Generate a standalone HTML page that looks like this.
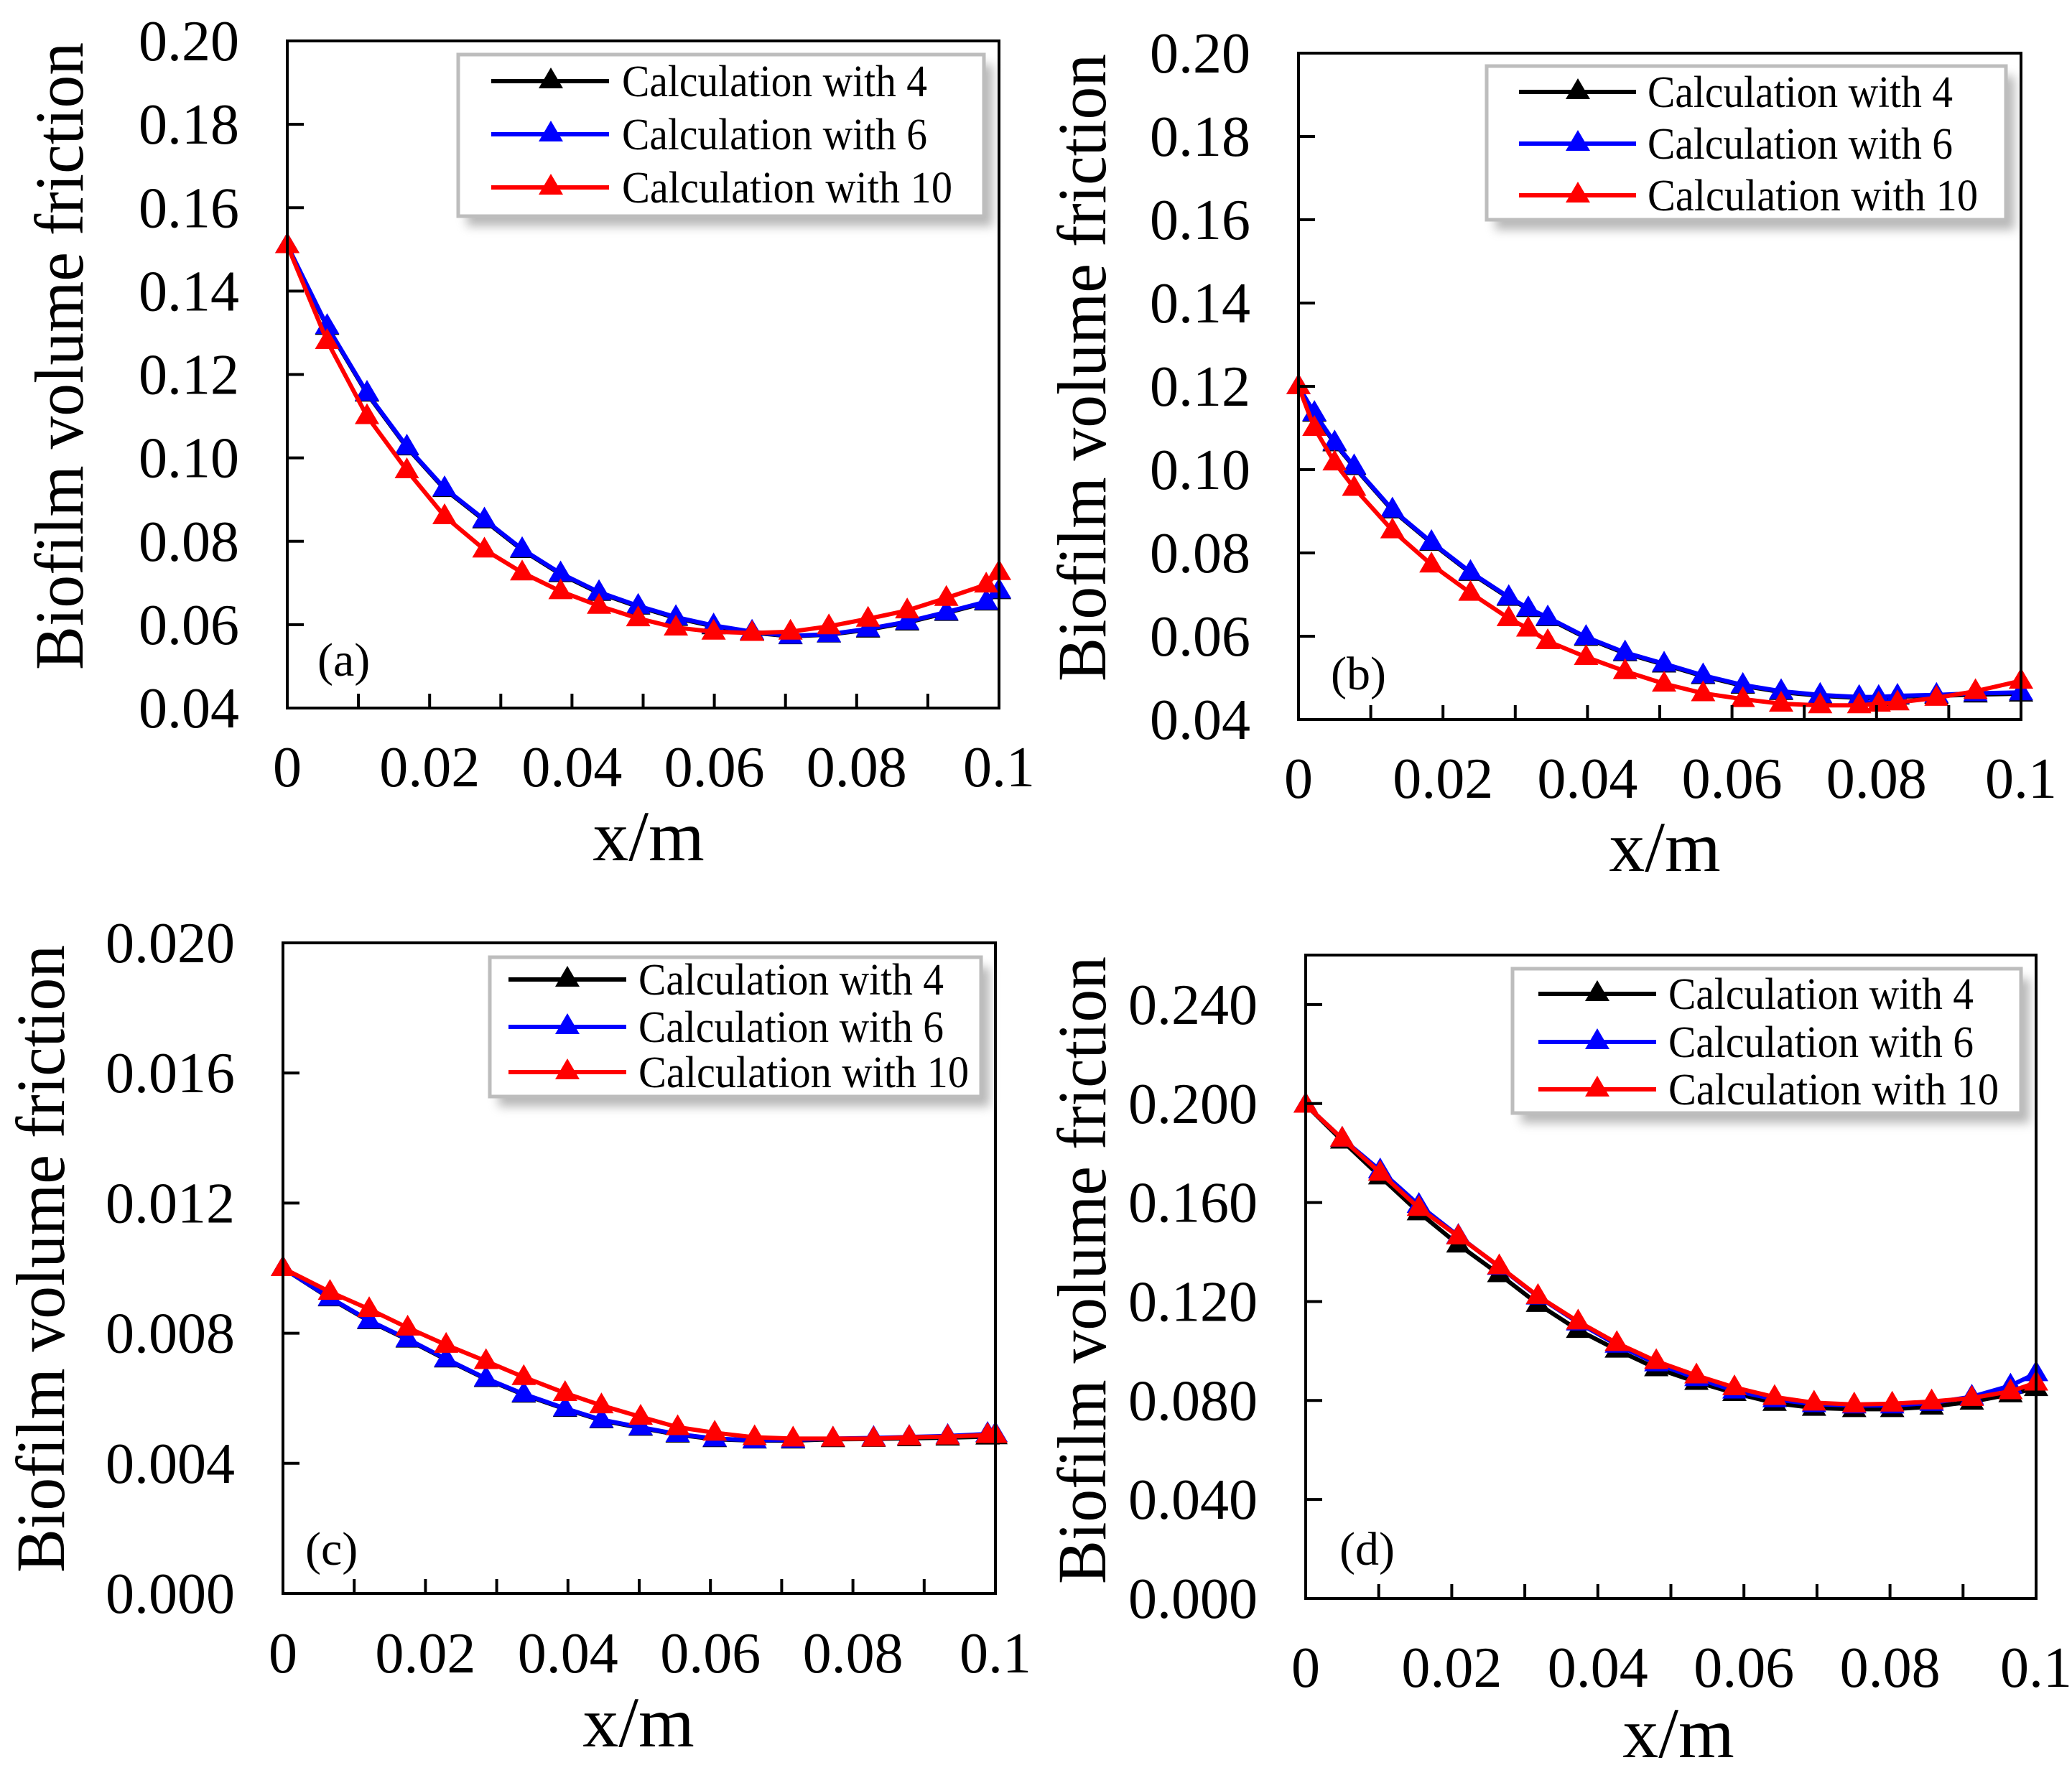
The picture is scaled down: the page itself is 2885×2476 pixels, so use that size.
<!DOCTYPE html>
<html><head><meta charset="utf-8"><style>
html,body{margin:0;padding:0;background:#fff;overflow:hidden}
svg{display:block;font-family:"Liberation Serif",serif}
</style></head><body>
<svg id="fig" width="2885" height="2476" viewBox="0 0 2885 2476" xmlns="http://www.w3.org/2000/svg">
<defs><filter id="sh" x="-10%" y="-10%" width="130%" height="140%"><feGaussianBlur stdDeviation="7"/></filter></defs>
</svg>
<script>
// ---- data ----
const xA=[0,0.0056,0.0112,0.0168,0.0221,0.0277,0.0330,0.0384,0.0438,0.0493,0.0546,0.0599,0.0653,0.0707,0.0761,0.0816,0.0871,0.0926,0.0982,0.1];
const a4=[0.151,0.1314,0.1154,0.1025,0.0925,0.085,0.0779,0.0721,0.0676,0.0643,0.0616,0.0596,0.0581,0.0572,0.0576,0.0588,0.0605,0.0628,0.0653,0.068];
const a6=[0.151,0.1316,0.1156,0.1027,0.0927,0.0852,0.0781,0.0723,0.0678,0.0645,0.0618,0.0598,0.0583,0.0573,0.0577,0.059,0.0607,0.063,0.0655,0.0682];
const a10=[0.151,0.128,0.110,0.097,0.086,0.078,0.0725,0.068,0.0645,0.0615,0.0593,0.0583,0.058,0.0583,0.0596,0.0614,0.0634,0.0664,0.0696,0.0726];
const xB=[0,0.0022,0.005,0.0077,0.013,0.0184,0.0238,0.0291,0.0318,0.0345,0.0398,0.0452,0.0506,0.056,0.0615,0.0668,0.0722,0.0776,0.0803,0.0829,0.0883,0.0937,0.1];
const b4=[0.120,0.1134,0.1063,0.1006,0.0902,0.0824,0.0752,0.0692,0.0665,0.0643,0.0596,0.0559,0.0532,0.0504,0.0481,0.0466,0.0457,0.0452,0.0452,0.0455,0.0457,0.046,0.0462];
const b6=[0.120,0.1136,0.1065,0.1008,0.0904,0.0826,0.0754,0.0694,0.0667,0.0645,0.0598,0.0561,0.0534,0.0506,0.0483,0.0468,0.0459,0.0454,0.0454,0.0457,0.0459,0.0463,0.0465];
const b10=[0.120,0.110,0.1017,0.0956,0.0854,0.0772,0.0704,0.0643,0.0618,0.0588,0.055,0.0516,0.0486,0.0463,0.0449,0.0438,0.0434,0.0434,0.0438,0.0441,0.0452,0.0468,0.0493];
const xC=[0,0.0066,0.0121,0.0175,0.0229,0.0285,0.0338,0.0396,0.0447,0.0502,0.0554,0.0606,0.0662,0.0716,0.0772,0.0829,0.0879,0.0933,0.0989,0.1];
const c4=[0.0100,0.00907,0.00837,0.0078,0.00719,0.00659,0.00611,0.00567,0.00532,0.00509,0.00488,0.00474,0.0047,0.0047,0.00474,0.00475,0.00477,0.00479,0.00482,0.00483];
const c6=[0.0100,0.00909,0.00839,0.00782,0.00721,0.00661,0.00613,0.00569,0.00534,0.00511,0.0049,0.00476,0.00471,0.00472,0.00476,0.00478,0.00481,0.00484,0.0049,0.0049];
const c10=[0.0100,0.00927,0.00874,0.00817,0.00764,0.00714,0.00665,0.00616,0.00578,0.00543,0.00511,0.00494,0.0048,0.00476,0.00476,0.00476,0.0048,0.00482,0.00487,0.00487];
const xD=[0,0.005,0.0102,0.0155,0.0209,0.0265,0.0318,0.0373,0.0426,0.048,0.0535,0.0587,0.0642,0.0696,0.0751,0.0803,0.0857,0.0912,0.0965,0.1];
const d4=[0.1995,0.1850,0.1705,0.156,0.143,0.131,0.119,0.1085,0.1005,0.093,0.0875,0.083,0.079,0.077,0.0765,0.0765,0.0775,0.0795,0.0825,0.085];
const d6=[0.1995,0.1858,0.173,0.159,0.1465,0.134,0.122,0.1115,0.1025,0.095,0.089,0.084,0.0805,0.0785,0.078,0.078,0.079,0.0815,0.086,0.091];
const d10=[0.1995,0.1858,0.172,0.1578,0.1463,0.1342,0.1222,0.1119,0.1032,0.0959,0.0901,0.0853,0.0814,0.0791,0.0784,0.0787,0.0796,0.081,0.0837,0.0872];
const xTicks=[0,0.02,0.04,0.06,0.08,0.1];
const xTickLabels=["0","0.02","0.04","0.06","0.08","0.1"];
const yTicksAB=[0.04,0.06,0.08,0.10,0.12,0.14,0.16,0.18,0.20];
const yLabAB=["0.04","0.06","0.08","0.10","0.12","0.14","0.16","0.18","0.20"];
const yTicksC=[0,0.004,0.008,0.012,0.016,0.020];
const yLabC=["0.000","0.004","0.008","0.012","0.016","0.020"];
const yTicksD=[0,0.04,0.08,0.12,0.16,0.20,0.24];
const yLabD=["0.000","0.040","0.080","0.120","0.160","0.200","0.240"];
const seriesNames=["Calculation with 4","Calculation with 6","Calculation with 10"];
const colors=["#000","#0000ff","#ff0000"];

const NS="http://www.w3.org/2000/svg";
const svg=document.getElementById('fig');
function mk(tag,attrs,parent){const e=document.createElementNS(NS,tag);for(const k in attrs)e.setAttribute(k,attrs[k]);(parent||svg).appendChild(e);return e;}

const panels=[
 {id:'a',L:400,R:1391,T:57,B:986,y0:0.04,y1:0.20,yt:yTicksAB,yl:yLabAB,xs:xA,ys:[a4,a6,a10],
  leg:[638,76,732,225],legLine:[684,848,767,866],rows:[113,187,261],tag:[442,941],yt_x:81,yt_y:496,xl:[903,1198],xb:109},
 {id:'b',L:1808,R:2814,T:74,B:1002,y0:0.04,y1:0.20,yt:yTicksAB,yl:yLabAB,xs:xB,ys:[b4,b6,b10],
  leg:[2070,92,723,214],legLine:[2115,2278,2197,2294],rows:[128,200,272],tag:[1853,960],yt_x:1505,yt_y:512,xl:[2318,1213],xb:109},
 {id:'c',L:394,R:1386,T:1313,B:2219,y0:0,y1:0.020,yt:yTicksC,yl:yLabC,xs:xC,ys:[c4,c6,c10],
  leg:[682,1333,684,194],legLine:[708,872,790,889],rows:[1364,1430,1493],tag:[425,2179],yt_x:55,yt_y:1753,xl:[889,2432],xb:110},
 {id:'d',L:1818,R:2835,T:1330,B:2226,y0:0,y1:0.26,yt:yTicksD,yl:yLabD,xs:xD,ys:[d4,d6,d10],
  leg:[2106,1349,708,201],legLine:[2142,2306,2224,2323],rows:[1384,1451,1517],tag:[1865,2179],yt_x:1505,yt_y:1769,xl:[2337,2447],xb:123}
];

function tri(cx,cy,col,g){return mk('polygon',{points:`${cx},${cy-18} ${cx-17},${cy+11} ${cx+17},${cy+11}`,fill:col},g);}

panels.forEach(p=>{
 const g=mk('g',{});
 
 
 const sx=v=>p.L+(v-0)/(0.1)*(p.R-p.L);
 const sy=v=>p.B-(v-p.y0)/(p.y1-p.y0)*(p.B-p.T);
 p.ys.forEach((vals,si)=>{
  const sg=mk('g',{},g);
  
  
  const pts=p.xs.map((x,i)=>sx(x)+','+sy(vals[i])).join(' ');
  mk('polyline',{points:pts,fill:'none',stroke:colors[si],'stroke-width':6,'stroke-linejoin':'round'},sg);
  p.xs.forEach((x,i)=>{const t=tri(sx(x),sy(vals[i]),colors[si],sg);});
 });
 const fr=mk('rect',{x:p.L,y:p.T,width:p.R-p.L,height:p.B-p.T,fill:'none',stroke:'#000','stroke-width':4},g);
 
 
 for(let k=1;k<10;k++){mk('line',{x1:sx(k*0.01),x2:sx(k*0.01),y1:p.B,y2:p.B-20,stroke:'#000','stroke-width':4},g);}
 xTicks.forEach((v,i)=>{
  const t=mk('text',{x:sx(v),y:p.B+p.xb,'font-size':80,'text-anchor':'middle'},g);
  t.textContent=xTickLabels[i];
  
  
 });
 p.yt.forEach((v,i)=>{
  if(i>0)mk('line',{x1:p.L,x2:p.L+23,y1:sy(v),y2:sy(v),stroke:'#000','stroke-width':4},g);
  const t=mk('text',{x:p.L-67,y:sy(v)+27,'font-size':80,'text-anchor':'end'},g);
  t.textContent=p.yl[i];
  
  
 });
 const yt=mk('text',{x:0,y:0,'font-size':96,'text-anchor':'middle',transform:`translate(${p.yt_x+34},${p.yt_y}) rotate(-90)`,textLength:874,lengthAdjust:'spacingAndGlyphs'},g);
 yt.textContent='Biofilm volume friction';
 
 
 const xt=mk('text',{x:p.xl[0],y:p.xl[1],'font-size':100,'text-anchor':'middle'},g);
 xt.textContent='x/m';
 
 
 const tg=mk('text',{x:p.tag[0],y:p.tag[1],'font-size':66},g);
 tg.textContent='('+p.id+')';
 
 
 const lg=mk('g',{},g);
 
 
 const [lx,ly,lw,lh]=p.leg;
 mk('rect',{x:lx+12,y:ly+14,width:lw,height:lh,fill:'#888',opacity:0.6,filter:'url(#sh)'},lg);
 mk('rect',{x:lx,y:ly,width:lw,height:lh,fill:'#fff',stroke:'#bdbdbd','stroke-width':5},lg);
 seriesNames.forEach((n,si)=>{
  const e=mk('g',{},lg);
  
  
  const y=p.rows[si];
  mk('line',{x1:p.legLine[0],x2:p.legLine[1],y1:y,y2:y,stroke:colors[si],'stroke-width':6},e);
  tri(p.legLine[2],y-1,colors[si],e);
  const t=mk('text',{x:p.legLine[3],y:y+21,'font-size':62,textLength:si==2?460:425,lengthAdjust:'spacingAndGlyphs'},e);
  t.textContent=n;
 });
});
</script>
</body></html>
